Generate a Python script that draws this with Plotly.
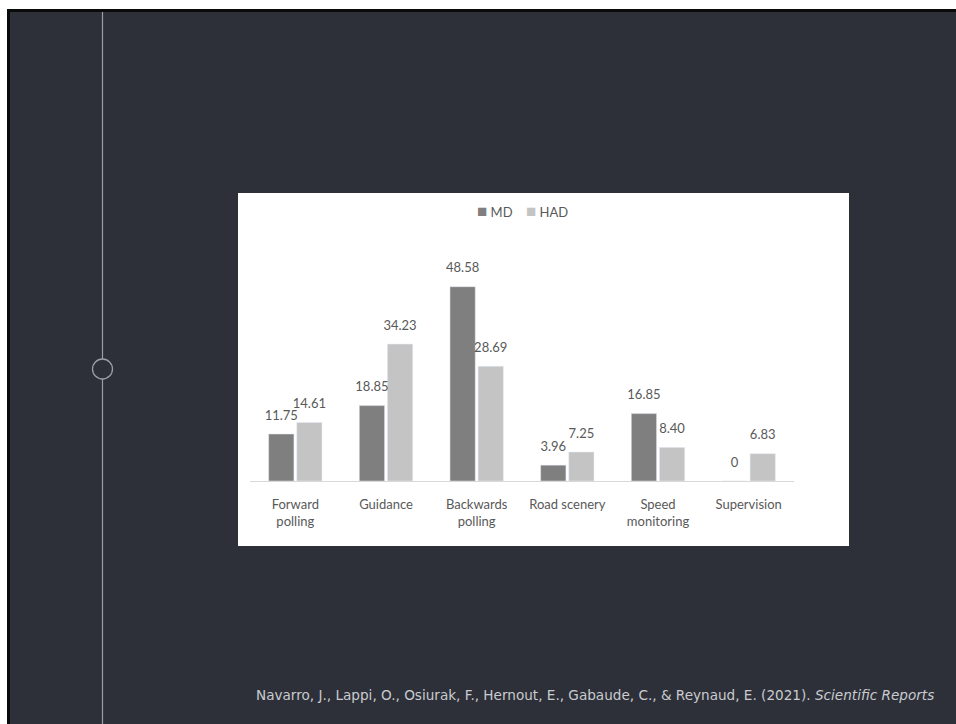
import plotly.graph_objects as go

W, H = 956, 724

categories = ["Forward<br>polling", "Guidance", "Backwards<br>polling", "Road scenery",
              "Speed<br>monitoring", "Supervision"]
series_names = ["MD", "HAD"]
md_values = [11.75, 18.85, 48.58, 3.96, 16.85, 0]
had_values = [14.61, 34.23, 28.69, 7.25, 8.40, 6.83]
md_labels = ["11.75", "18.85", "48.58", "3.96", "16.85", "0"]
had_labels = ["14.61", "34.23", "28.69", "7.25", "8.40", "6.83"]
citation = ("Navarro, J., Lappi, O., Osiurak, F., Hernout, E., Gabaude, C., &amp; Reynaud, E. (2021). "
            "<i>Scientific Reports</i>")

MD_COLOR = "#7f7f7f"
HAD_COLOR = "#c4c4c4"
TEXT_COLOR = "#595959"


def px(x):
    return x / W


def py(y):
    return 1 - y / H


label_font = dict(family="Lato, 'Open Sans', sans-serif", size=13, color=TEXT_COLOR)
GAP = 0.38

fig = go.Figure()
fig.add_trace(go.Bar(
    name=series_names[0], x=categories, y=md_values, offsetgroup="md",
    marker=dict(color=MD_COLOR), hoverinfo="skip",
))
fig.add_trace(go.Bar(
    name=series_names[1], x=categories, y=had_values, offsetgroup="had",
    marker=dict(color=HAD_COLOR), hoverinfo="skip",
))
# value labels (grouped scatter text so they sit above each bar)
fig.add_trace(go.Scatter(
    x=categories, y=md_values, text=md_labels, mode="markers+text", offsetgroup="md",
    textposition="top center", textfont=label_font, cliponaxis=False,
    marker=dict(size=16, color="rgba(0,0,0,0)"), hoverinfo="skip",
))
fig.add_trace(go.Scatter(
    x=categories, y=had_values, text=had_labels, mode="markers+text", offsetgroup="had",
    textposition="top center", textfont=label_font, cliponaxis=False,
    marker=dict(size=16, color="rgba(0,0,0,0)"), hoverinfo="skip",
))

shapes = [
    # black frame
    dict(type="rect", xref="paper", yref="paper", x0=px(7), x1=px(W + 5), y0=py(H + 5), y1=py(9),
         fillcolor="#0b0b0c", line=dict(width=0), layer="below"),
    # dark slide background
    dict(type="rect", xref="paper", yref="paper", x0=px(10), x1=px(W + 5), y0=py(H + 5), y1=py(12),
         fillcolor="#2d3038", line=dict(width=0), layer="below"),
    # vertical line
    dict(type="line", xref="paper", yref="paper", x0=px(102.5), x1=px(102.5), y0=py(H + 5), y1=py(12),
         line=dict(color="#9a9ea6", width=1.2), layer="below"),
    # circle
    dict(type="circle", xref="paper", yref="paper", x0=px(92.5), x1=px(112.5), y0=py(379), y1=py(359),
         fillcolor="#2d3038", line=dict(color="#9a9ea6", width=1.3), layer="below"),
    # white chart panel
    dict(type="rect", xref="paper", yref="paper", x0=px(238), x1=px(849), y0=py(546), y1=py(193),
         fillcolor="#ffffff", line=dict(width=0), layer="below"),
]

legend_text = (f"<span style='color:{MD_COLOR};font-size:17px'>■</span> {series_names[0]}"
               "&nbsp;&nbsp;&nbsp;&nbsp;"
               f"<span style='color:{HAD_COLOR};font-size:17px'>■</span> {series_names[1]}")

fig.update_layout(
    width=W, height=H,
    margin=dict(l=0, r=0, t=0, b=0),
    paper_bgcolor="#ffffff",
    plot_bgcolor="rgba(0,0,0,0)",
    barmode="group",
    bargap=GAP,
    bargroupgap=0.1,
    scattermode="group",
    scattergap=GAP,
    shapes=shapes,
    showlegend=False,
    hovermode=False,
    xaxis=dict(domain=[px(250), px(794)], showline=True, linecolor="#d9d9d9", linewidth=1,
               showgrid=False, zeroline=False, tickfont=label_font, ticks="",
               ticklabelstandoff=11, fixedrange=True),
    yaxis=dict(domain=[py(481), py(231)], range=[0, 62.5], visible=False, showgrid=False,
               zeroline=False, fixedrange=True),
    annotations=[
        dict(text=legend_text, xref="paper", yref="paper", x=px(522), y=py(210),
             xanchor="center", yanchor="middle", showarrow=False, font=label_font),
        dict(text=citation, xref="paper", yref="paper", x=px(936), y=py(695),
             xanchor="right", yanchor="middle", showarrow=False,
             font=dict(family="'DejaVu Sans', sans-serif", size=13.6, color="#c9cbd0")),
    ],
)

fig.write_html(
    "out.html",
    config={"displayModeBar": False, "staticPlot": True},
    post_script="document.body.style.margin='0';document.body.style.overflow='hidden';",
)
